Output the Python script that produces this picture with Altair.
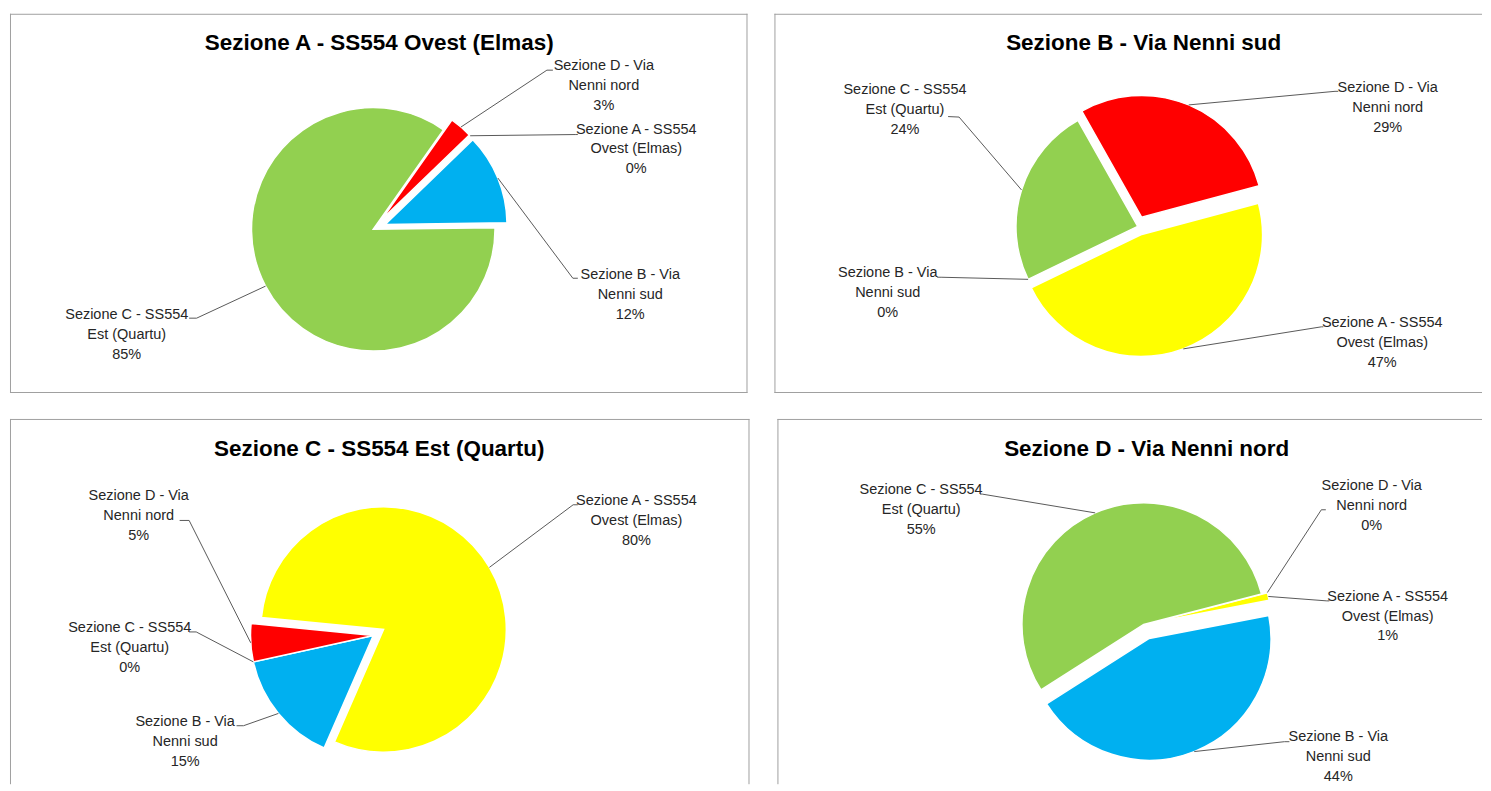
import altair as alt
import pandas as pd

# ---------------- data ----------------
TITLES = [
    "Sezione A - SS554 Ovest (Elmas)",
    "Sezione B - Via Nenni sud",
    "Sezione C - SS554 Est (Quartu)",
    "Sezione D - Via Nenni nord",
]
CATEGORIES = [
    "Sezione A - SS554\nOvest (Elmas)",
    "Sezione B - Via\nNenni sud",
    "Sezione C - SS554\nEst (Quartu)",
    "Sezione D - Via\nNenni nord",
]
COLORS = ["#FFFF00", "#00B0F0", "#92D050", "#FF0000"]

SHARE_A = [0, 12, 85, 3]
SHARE_B = [47, 0, 24, 29]
SHARE_C = [80, 15, 0, 5]
SHARE_D = [1, 44, 55, 0]
SHARES = [SHARE_A, SHARE_B, SHARE_C, SHARE_D]

# ---------------- layout (per panel) ----------------
FONT = "Liberation Sans"
PANEL_W = [739, 709, 741, 706]
PANEL_H = [380, 380, 366, 366]
# which frame sides are visible (left, top, right, bottom): right/bottom panels are cut by the page
FRAME = [(1, 1, 1, 1), (1, 1, 0, 1), (1, 1, 1, 0), (1, 1, 0, 0)]
TITLE_Y = [36, 36, 37, 37]
FIRST_ANGLE = [46, 75, 275.6, 75.5]          # degrees, clockwise from 12 o'clock
CENTER = [(364, 216), (364, 213), (364, 217), (367, 206)]
RADIUS = [122, 122, 123, 122]
EXPLODE = [[13, 13, 0, 13], [9, 0, 0, 10], [12, 0, 0, 0], [6, 15, 0, 6]]
# label block: (centre x, first-line middle y) for categories A, B, C, D
LABEL_AT = [
    [(627.5, 116), (621.5, 261.6), (117, 302), (595, 52.5)],
    [(609, 309.7), (113.5, 260), (130.8, 76.7), (614.5, 74.3)],
    [(627.7, 82.6), (175.5, 303.4), (120, 209.7), (129, 77)],
    [(611.5, 178), (562, 318.4), (144, 71.6), (595.5, 66.9)],
]
ELBOW = [
    [(567, 121), (564, 265), (187, 305), (538, 56.5)],
    [(548, 313.7), (167, 264), (185, 103.5), (561.7, 77.7)],
    [(564.3, 86), (234, 307.4), (186.6, 213.4), (179.5, 101.7)],
    [(550.5, 182.3), (508, 323.4), (205.2, 75.3), (545, 91)],
]
ATTACH = [
    [(569, 121), (569, 265), (179.5, 305), (544, 56.5)],
    [(550, 313.7), (163, 264), (174, 103), (565, 77.7)],
    [(569, 86), (227, 307.4), (179.5, 213.4), (170, 101.7)],
    [(553, 182.3), (513, 323.4), (203, 75.3), (549.5, 91)],
]

LINE_COLOR = "#595959"
TEXT_COLOR = "#262626"
FRAME_COLOR = "#a0a0a0"


def frame_layers(i):
    w, h = PANEL_W[i], PANEL_H[i]
    left, top, right, bottom = FRAME[i]
    dummy = pd.DataFrame({"k": [0]})
    layers = []
    if left:
        layers.append(alt.Chart(dummy).mark_rule(color=FRAME_COLOR, strokeWidth=1).encode(
            x=alt.value(0.5), y=alt.value(0), y2=alt.value(h)))
    if top:
        layers.append(alt.Chart(dummy).mark_rule(color=FRAME_COLOR, strokeWidth=1).encode(
            x=alt.value(0), x2=alt.value(w), y=alt.value(0.5)))
    if right:
        layers.append(alt.Chart(dummy).mark_rule(color=FRAME_COLOR, strokeWidth=1).encode(
            x=alt.value(w - 0.5), y=alt.value(0), y2=alt.value(h)))
    if bottom:
        layers.append(alt.Chart(dummy).mark_rule(color=FRAME_COLOR, strokeWidth=1).encode(
            x=alt.value(0), x2=alt.value(w), y=alt.value(h - 0.5)))
    return layers


def panel(i):
    shares = SHARES[i]
    df = pd.DataFrame({
        "order": [0, 1, 2, 3],
        "label": [f"{c}\n{p}%" for c, p in zip(CATEGORIES, shares)],
        "pct": shares,
        "col": COLORS,
        "explode": EXPLODE[i],
        "lx": [p[0] for p in LABEL_AT[i]],
        "ly": [p[1] for p in LABEL_AT[i]],
        "ex": [p[0] for p in ELBOW[i]],
        "ey": [p[1] for p in ELBOW[i]],
        "ax": [p[0] for p in ATTACH[i]],
        "ay": [p[1] for p in ATTACH[i]],
    })
    cx, cy = CENTER[i]
    r = RADIUS[i]
    t0 = FIRST_ANGLE[i]

    base = (
        alt.Chart(df)
        .transform_joinaggregate(total="sum(pct)")
        .transform_window(cum="sum(pct)", sort=[alt.SortField("order", order="ascending")])
        .transform_calculate(a1=f"{t0}*PI/180 + 2*PI*datum.cum/datum.total")
        .transform_calculate(a0="datum.a1 - 2*PI*datum.pct/datum.total")
        .transform_calculate(am="(datum.a0 + datum.a1)/2")
        .transform_calculate(px=f"{cx} + datum.explode*sin(datum.am)")
        .transform_calculate(py=f"{cy} - datum.explode*cos(datum.am)")
        .transform_calculate(sx=f"{cx} + ({r} + datum.explode)*sin(datum.am)")
        .transform_calculate(sy=f"{cy} - ({r} + datum.explode)*cos(datum.am)")
    )

    arcs = base.transform_filter("datum.pct > 0").mark_arc(
        outerRadius=r, stroke="white", strokeWidth=1.5
    ).encode(
        theta=alt.Theta("a0:Q", scale=None, stack=None),
        theta2=alt.Theta2("a1"),
        x=alt.X("px:Q", scale=None, axis=None),
        y=alt.Y("py:Q", scale=None, axis=None),
        color=alt.Color("col:N", scale=None),
    )

    leader1 = base.mark_rule(color=LINE_COLOR, strokeWidth=1).encode(
        x=alt.X("sx:Q", scale=None, axis=None),
        y=alt.Y("sy:Q", scale=None, axis=None),
        x2=alt.X2("ex"),
        y2=alt.Y2("ey"),
    )
    leader2 = base.mark_rule(color=LINE_COLOR, strokeWidth=1).encode(
        x=alt.X("ex:Q", scale=None, axis=None),
        y=alt.Y("ey:Q", scale=None, axis=None),
        x2=alt.X2("ax"),
        y2=alt.Y2("ay"),
    )

    labels = base.mark_text(
        align="center", baseline="top", dy=-7, fontSize=14.5, lineHeight=20,
        lineBreak="\n", font=FONT, color=TEXT_COLOR,
    ).encode(
        x=alt.X("lx:Q", scale=None, axis=None),
        y=alt.Y("ly:Q", scale=None, axis=None),
        text="label:N",
    )

    title = alt.Chart(pd.DataFrame({"t": [TITLES[i]]})).mark_text(
        fontSize=22.5, fontWeight="bold", font=FONT, color="#000000",
        align="center", baseline="alphabetic",
    ).encode(
        text="t:N",
        x=alt.value(370),
        y=alt.value(TITLE_Y[i]),
    )

    return alt.layer(arcs, leader1, leader2, labels, title, *frame_layers(i)).properties(
        width=PANEL_W[i], height=PANEL_H[i]
    )


top = alt.hconcat(panel(0), panel(1), spacing=25)
bottom = alt.hconcat(panel(2), panel(3), spacing=26)
chart = (
    alt.vconcat(top, bottom, spacing=24)
    .properties(padding={"left": 1, "top": 4, "right": 0, "bottom": 0}, background="white")
    .configure_view(stroke="transparent", strokeWidth=0)
)

chart.save("out.html", embed_options={"renderer": "svg", "actions": False})
